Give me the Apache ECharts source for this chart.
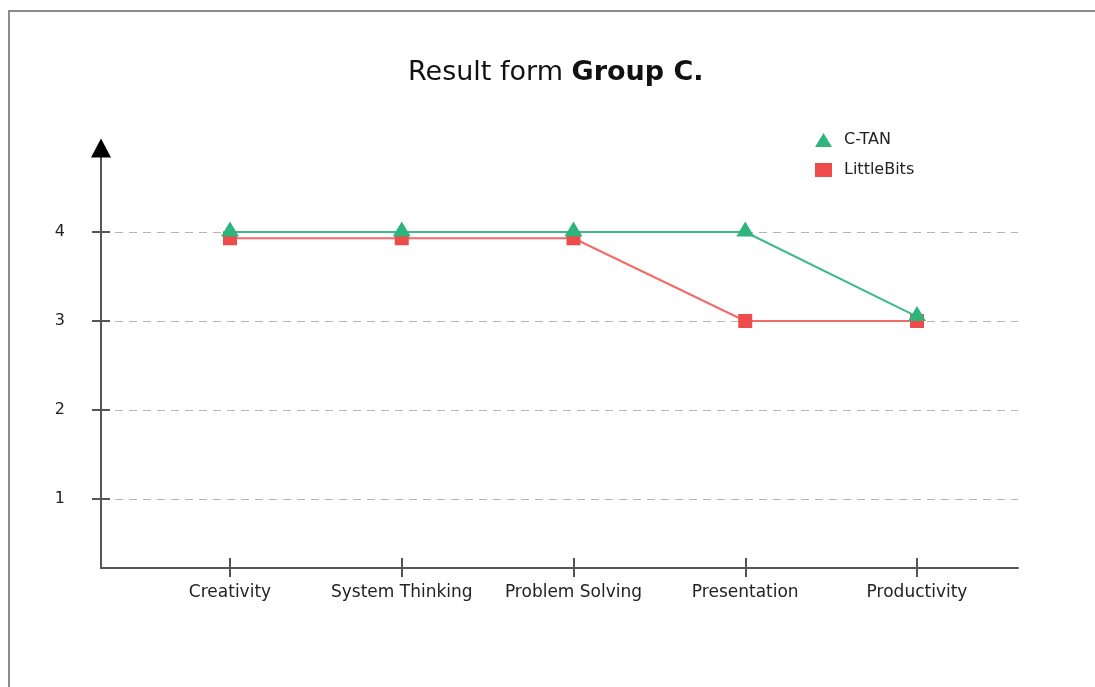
<!DOCTYPE html>
<html>
<head>
<meta charset="utf-8">
<script src="https://cdn.jsdelivr.net/npm/echarts@6/dist/echarts.min.js"></script>
<style>
  html, body { margin: 0; padding: 0; background: #fff; overflow: hidden; }
  #frame { position: absolute; left: 8px; top: 10px; width: 3000px; height: 3000px;
           border-top: 2px solid #8c8c8c; border-left: 2px solid #8c8c8c; }
  #chart { position: absolute; left: 0; top: 0; width: 1095px; height: 687px; }
</style>
</head>
<body>
<div id="frame"></div>
<div id="chart"></div>
<script>
const categories = ['Creativity', 'System Thinking', 'Problem Solving', 'Presentation', 'Productivity'];
const ctanValues = [4, 4, 4, 4, 3.05];
const littleBitsValues = [3.93, 3.93, 3.93, 3, 3];
const yTicks = [1, 2, 3, 4];
const xTicks = [0, 1, 2, 3, 4];

const FONT = 'DejaVu Sans';
const chart = echarts.init(document.getElementById('chart'), null, { renderer: 'canvas' });

const axisColor = '#555';
const baseY = {
  type: 'value', min: 0.225, max: 5, position: 'left'
};
const baseX = {
  type: 'value', min: -0.751, max: 4.588, position: 'bottom'
};

chart.setOption({
  animation: false,
  backgroundColor: 'transparent',
  title: {
    text: '{a|Result form }{b|Group C.}',
    left: 403, top: 54,
    textStyle: {
      fontWeight: 'normal',
      rich: {
        a: { fontFamily: FONT, fontSize: 27, fontWeight: 'normal', color: '#111' },
        b: { fontFamily: FONT, fontSize: 27, fontWeight: 'bold', color: '#111' }
      }
    }
  },
  legend: {
    orient: 'vertical', left: 810, top: 127,
    itemWidth: 17, itemHeight: 14, itemGap: 14,
    data: [{ name: 'C-TAN', icon: 'triangle' }, { name: 'LittleBits', icon: 'rect' }],
    textStyle: { fontFamily: FONT, fontSize: 16, color: '#222', padding: [0, 0, 0, 7] }
  },
  grid: { left: 101, right: 77, top: 143, bottom: 119, containLabel: false },
  xAxis: [
    Object.assign({}, baseX, {
      axisLine: { show: true, onZero: false, lineStyle: { color: axisColor, width: 2 } },
      axisTick: { show: true, inside: false, length: 9, customValues: xTicks, lineStyle: { color: axisColor, width: 2 } },
      axisLabel: {
        show: true, customValues: xTicks, margin: 16,
        fontFamily: FONT, fontSize: 17, color: '#222',
        formatter: v => categories[Math.round(v)]
      },
      splitLine: { show: false }
    }),
    Object.assign({}, baseX, {
      axisLine: { show: false, onZero: false },
      axisTick: { show: true, inside: true, length: 10, customValues: xTicks, lineStyle: { color: axisColor, width: 2 } },
      axisLabel: { show: false },
      splitLine: { show: false }
    })
  ],
  yAxis: [
    Object.assign({}, baseY, {
      axisLine: { show: true, onZero: false, lineStyle: { color: axisColor, width: 2 } },
      axisTick: { show: true, inside: false, length: 9, customValues: yTicks, lineStyle: { color: axisColor, width: 2 } },
      axisLabel: {
        show: true, customValues: yTicks, margin: 36,
        fontFamily: FONT, fontSize: 16, color: '#222',
        formatter: v => String(Math.round(v))
      },
      splitLine: {
        show: true, showMinLine: true, showMaxLine: true,
        lineStyle: { color: '#b4b4b4', width: 1.2, type: [8, 6] }
      }
    }),
    Object.assign({}, baseY, {
      axisLine: {
        show: true, onZero: false, symbol: ['none', 'triangle'], symbolSize: [20, 19], symbolOffset: [0, -5],
        lineStyle: { color: '#000', width: 0 }
      },
      axisTick: { show: true, inside: true, length: 9, customValues: yTicks, lineStyle: { color: axisColor, width: 2 } },
      axisLabel: { show: false },
      splitLine: { show: false }
    })
  ],
  series: [
    {
      name: 'LittleBits', type: 'line',
      data: littleBitsValues.map((v, i) => [i, v]),
      symbol: 'rect', symbolSize: 14,
      itemStyle: { color: '#ee4b4b' },
      lineStyle: { color: '#f26a6a', width: 2 },
      z: 3
    },
    {
      name: 'C-TAN', type: 'line',
      data: ctanValues.map((v, i) => [i, v]),
      symbol: 'triangle', symbolSize: [18, 15], symbolOffset: [0, -3],
      itemStyle: { color: '#2fb47c' },
      lineStyle: { color: '#3dbb86', width: 2 },
      z: 4
    }
  ]
});
</script>
</body>
</html>
